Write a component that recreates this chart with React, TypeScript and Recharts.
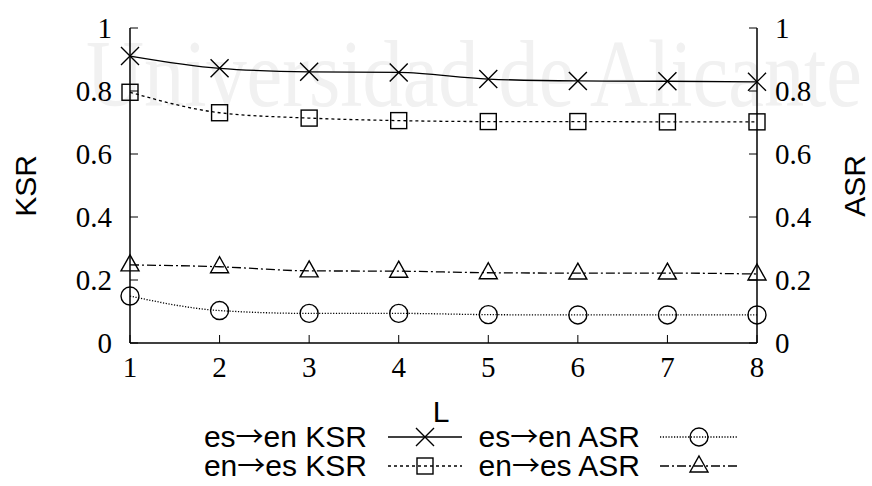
import { LineChart, Line, XAxis, YAxis } from "recharts";

const lengths = [1, 2, 3, 4, 5, 6, 7, 8];
const esEnKSR = [0.911, 0.872, 0.861, 0.859, 0.838, 0.832, 0.831, 0.829];
const enEsKSR = [0.796, 0.731, 0.714, 0.706, 0.703, 0.703, 0.702, 0.702];
const esEnASR = [0.149, 0.103, 0.094, 0.094, 0.09, 0.089, 0.089, 0.089];
const enEsASR = [0.248, 0.242, 0.229, 0.228, 0.223, 0.222, 0.222, 0.219];
const yTicks = [0, 0.2, 0.4, 0.6, 0.8, 1];

const data = lengths.map((l, i) => ({
  l,
  esEnKSR: esEnKSR[i],
  enEsKSR: enEsKSR[i],
  esEnASR: esEnASR[i],
  enEsASR: enEsASR[i],
}));

type Marker = "cross" | "square" | "circle" | "triangle";

const series: {
  key: string;
  from: string;
  to: string;
  metric: string;
  axis: string;
  dash?: string;
  marker: Marker;
}[] = [
  { key: "esEnKSR", from: "es", to: "en", metric: "KSR", axis: "left", marker: "cross" },
  { key: "enEsKSR", from: "en", to: "es", metric: "KSR", axis: "left", dash: "3 3", marker: "square" },
  { key: "esEnASR", from: "es", to: "en", metric: "ASR", axis: "right", dash: "1.2 1.6", marker: "circle" },
  { key: "enEsASR", from: "en", to: "es", metric: "ASR", axis: "right", dash: "9 3 2 3", marker: "triangle" },
];

const SERIF = "'Liberation Serif', 'DejaVu Serif', serif";
const SANS = "'Liberation Sans', Arial, sans-serif";

function drawMarker(kind: Marker, cx: number, cy: number, key?: string) {
  const s = 9;
  const p = { fill: "none", stroke: "#000", strokeWidth: 1.4 };
  if (kind === "cross")
    return (
      <path key={key} d={`M${cx - s},${cy - s}L${cx + s},${cy + s}M${cx - s},${cy + s}L${cx + s},${cy - s}`} {...p} />
    );
  if (kind === "square")
    return <rect key={key} x={cx - 8} y={cy - 8} width={16} height={16} {...p} />;
  if (kind === "circle") return <circle key={key} cx={cx} cy={cy} r={9} {...p} />;
  return <path key={key} d={`M${cx},${cy - 10}L${cx + 9},${cy + 6}L${cx - 9},${cy + 6}Z`} {...p} />;
}

const fmt = (v: number) => (v === 0 || v === 1 ? String(v) : v.toFixed(1));

export default function App() {
  return (
    <div style={{ position: "absolute", left: 0, top: 0, width: 872, height: 486 }}>
      <svg width={872} height={486} style={{ position: "absolute", left: 0, top: 0 }}>
        <text
          x={86}
          y={106}
          fontFamily={SERIF}
          fontSize={96}
          fill="#f1f1f1"
          textLength={776}
          lengthAdjust="spacingAndGlyphs"
        >
          Universidad de Alicante
        </text>
      </svg>
      <div style={{ position: "absolute", left: 0, top: 0 }}>
        <LineChart width={872} height={486} data={data} margin={{ top: 28, right: 30, bottom: 103, left: 30 }}>
          <XAxis
            dataKey="l"
            type="number"
            domain={[1, 8]}
            ticks={lengths}
            height={40}
            tickSize={-8}
            tickMargin={21}
            stroke="#000"
            axisLine={{ stroke: "#000", strokeWidth: 1.5 }}
            tick={{ fill: "#000", fontFamily: SERIF, fontSize: 29 }}
          />
          <XAxis
            xAxisId="top"
            orientation="top"
            dataKey="l"
            type="number"
            domain={[1, 8]}
            ticks={lengths}
            height={0}
            tickSize={-8}
            tickFormatter={() => ""}
            stroke="#000"
            axisLine={{ stroke: "#000", strokeWidth: 1.5 }}
          />
          <YAxis
            yAxisId="left"
            domain={[0, 1]}
            ticks={yTicks}
            width={100}
            tickSize={-8}
            tickMargin={26}
            tickFormatter={fmt}
            stroke="#000"
            axisLine={{ stroke: "#000", strokeWidth: 1.5 }}
            tick={{ fill: "#000", fontFamily: SERIF, fontSize: 29 }}
          />
          <YAxis
            yAxisId="right"
            orientation="right"
            domain={[0, 1]}
            ticks={yTicks}
            width={85}
            tickSize={-8}
            tickMargin={26}
            tickFormatter={fmt}
            stroke="#000"
            axisLine={{ stroke: "#000", strokeWidth: 1.5 }}
            tick={{ fill: "#000", fontFamily: SERIF, fontSize: 29 }}
          />
          {series.map((s) => (
            <Line
              key={s.key}
              yAxisId={s.axis}
              dataKey={s.key}
              name={`${s.from}\u2192${s.to} ${s.metric}`}
              type="monotone"
              stroke="#000"
              strokeWidth={1.3}
              strokeDasharray={s.dash}
              isAnimationActive={false}
              dot={(props: any) => drawMarker(s.marker, props.cx, props.cy, `${s.key}-${props.index}`)}
              activeDot={false}
            />
          ))}
        </LineChart>
      </div>
      <svg width={872} height={486} style={{ position: "absolute", left: 0, top: 0, pointerEvents: "none" }}>
        <text x={25} y={186} fontFamily={SANS} fontSize={30} textAnchor="middle" dominantBaseline="central" transform="rotate(-90 25 186)">
          KSR
        </text>
        <text x={854} y={186} fontFamily={SANS} fontSize={30} textAnchor="middle" dominantBaseline="central" transform="rotate(-90 854 186)">
          ASR
        </text>
        <text x={441} y={411} fontFamily={SANS} fontSize={30} textAnchor="middle" dominantBaseline="central">
          L
        </text>
        {series.map((s, i) => {
          const col = i < 2 ? 0 : 1;
          const row = i % 2;
          const textEnd = col === 0 ? 367 : 640;
          const x1 = col === 0 ? 388 : 660;
          const x2 = col === 0 ? 462 : 738;
          const y = row === 0 ? 437 : 466;
          return (
            <g key={s.key}>
              <text x={textEnd} y={y + 10} fontFamily={SANS} fontSize={30} textAnchor="end">
                {s.from}
                <tspan fontFamily="'Noto Sans CJK JP', 'DejaVu Sans', sans-serif" fontSize={28}>
                  {"\u2192"}
                </tspan>
                {`${s.to} ${s.metric}`}
              </text>
              <line x1={x1} x2={x2} y1={y} y2={y} stroke="#000" strokeWidth={1.3} strokeDasharray={s.dash} />
              {drawMarker(s.marker, (x1 + x2) / 2, y)}
            </g>
          );
        })}
      </svg>
    </div>
  );
}
